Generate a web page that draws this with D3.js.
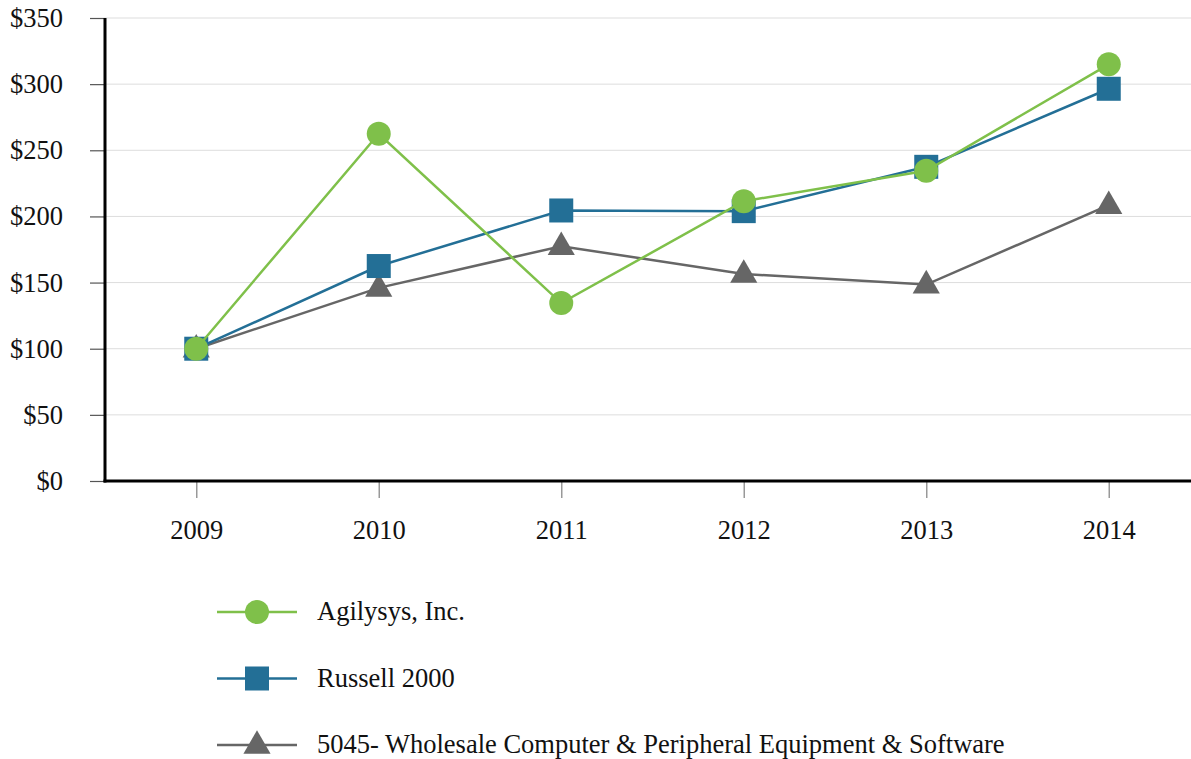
<!DOCTYPE html>
<html>
<head>
    <meta charset="utf-8">
    <title>cumulative return</title>
    <script src="https://d3js.org/d3.v7.min.js"></script>
    <style> body { margin: 0px; background: #fff; } </style>
</head>
<body>
<svg width="1191" height="759"></svg>
<script>

    var years = ["2009", "2010", "2011", "2012", "2013", "2014"];
    var agilysys = [100, 262.5, 134.5, 211.5, 234.5, 315];
    var russell = [100, 162.5, 204.5, 204, 237.5, 296.5];
    var wholesale = [100, 146, 177.5, 156.5, 148.5, 208.5];
    var seriesNames = ["Agilysys, Inc.", "Russell 2000", "5045- Wholesale Computer & Peripheral Equipment & Software"];
    var yTicks = [0, 50, 100, 150, 200, 250, 300, 350];

    var series = [
        {name: seriesNames[0], values: agilysys, color: "#7fc04a", shape: "circle"},
        {name: seriesNames[1], values: russell, color: "#236f96", shape: "square"},
        {name: seriesNames[2], values: wholesale, color: "#666666", shape: "triangle"}
    ];

    var svg = d3.select("svg"),
        plotLeft = 105, plotRight = 1200, plotTop = 18, plotBottom = 481,
        font = "'Liberation Serif', 'Times New Roman', serif",
        fontSize = "26.5px";

    var x = d3.scalePoint().domain(years).range([plotLeft, plotRight]).padding(0.5);
    var y = d3.scaleLinear().domain([0, 350]).range([plotBottom, plotTop]);

    // gridlines
    svg.append("g").selectAll("line").data(yTicks.filter(function (d){ return d > 0; }))
        .enter().append("line")
        .attr("x1", plotLeft).attr("x2", 1191)
        .attr("y1", function (d){ return y(d); })
        .attr("y2", function (d){ return y(d); })
        .attr("stroke", "#dddddd").attr("stroke-width", 1);

    // y axis
    var yAxis = svg.append("g")
        .attr("transform", "translate(" + plotLeft + ",0)")
        .call(d3.axisLeft(y).tickValues(yTicks).tickSize(15).tickPadding(27)
            .tickFormat(function (d){ return "$" + d; }));
    yAxis.select(".domain").remove();
    yAxis.selectAll("line").attr("stroke", "#555").attr("stroke-width", 1.2);
    yAxis.selectAll("text").style("font-family", font).style("font-size", fontSize).attr("fill", "#111");

    // x axis
    var xAxis = svg.append("g")
        .attr("transform", "translate(0," + plotBottom + ")")
        .call(d3.axisBottom(x).tickSize(17).tickPadding(22));
    xAxis.select(".domain").remove();
    xAxis.selectAll("line").attr("stroke", "#999").attr("stroke-width", 1.5);
    xAxis.selectAll("text").style("font-family", font).style("font-size", fontSize).attr("fill", "#111");

    // axis lines
    svg.append("line").attr("x1", plotLeft).attr("x2", plotLeft).attr("y1", plotTop).attr("y2", plotBottom + 1.5)
        .attr("stroke", "#000").attr("stroke-width", 3);
    svg.append("line").attr("x1", plotLeft - 1.5).attr("x2", 1191).attr("y1", plotBottom).attr("y2", plotBottom)
        .attr("stroke", "#000").attr("stroke-width", 3);

    var line = d3.line()
        .x(function (d, i){ return x(years[i]); })
        .y(function (d){ return y(d); });

    function marker(g, shape, color, cx, cy){
        if (shape === "circle") {
            g.append("circle").attr("cx", cx).attr("cy", cy).attr("r", 12).attr("fill", color);
        } else if (shape === "square") {
            g.append("rect").attr("x", cx - 12).attr("y", cy - 12).attr("width", 24).attr("height", 24).attr("fill", color);
        } else {
            g.append("path")
                .attr("d", d3.symbol().type(d3.symbolTriangle).size(320)())
                .attr("transform", "translate(" + cx + "," + (cy + 1) + ")")
                .attr("fill", color);
        }
    }

    // draw in reverse order so Agilysys is on top
    series.slice().reverse().forEach(function (s){
        var g = svg.append("g");
        g.append("path").datum(s.values)
            .attr("d", line)
            .attr("fill", "none")
            .attr("stroke", s.color)
            .attr("stroke-width", 2.5);
        s.values.forEach(function (v, i){
            marker(g, s.shape, s.color, x(years[i]), y(v));
        });
    });

    // legend
    var legend = svg.append("g");
    series.forEach(function (s, i){
        var ly = 612 + i * 66.5;
        var g = legend.append("g");
        g.append("line").attr("x1", 217).attr("x2", 297).attr("y1", ly).attr("y2", ly)
            .attr("stroke", s.color).attr("stroke-width", 2.5);
        marker(g, s.shape, s.color, 257, ly);
        g.append("text").attr("x", 317).attr("y", ly + 8)
            .style("font-family", font).style("font-size", fontSize).attr("fill", "#111")
            .text(s.name);
    });
</script>
</body>
</html>
